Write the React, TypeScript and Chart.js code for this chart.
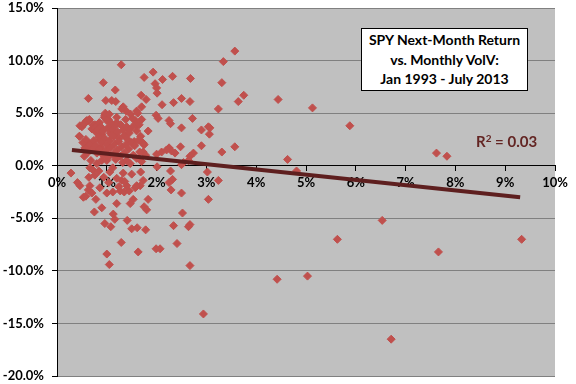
import React, { useEffect, useRef } from "react";
import { Chart, registerables } from "chart.js";

Chart.register(...registerables);

// Monthly VolV (%), x values
const volatility: number[] = [
  1.29, 0.93, 0.63, 1.17, 0.98, 1.10, 1.18, 1.93, 1.97, 2.00, 2.01, 2.12, 2.32, 1.75, 2.68, 1.69, 1.79, 2.11, 2.34, 2.50,
  2.67, 1.33, 1.39, 1.60, 1.99, 2.03, 2.25, 2.28, 2.72, 2.50, 2.90, 3.04, 3.06, 3.24, 3.31, 3.34, 3.57, 3.64, 3.75, 2.90,
  3.31, 3.57, 2.48, 2.74, 2.25, 2.30, 2.37, 2.00, 2.01, 2.10, 2.20, 1.83, 1.73, 2.54, 4.44, 5.13, 5.88, 4.63, 4.81, 3.02,
  3.24, 3.04, 6.53, 5.63, 4.42, 5.03, 2.94, 6.71, 7.62, 7.83, 7.66, 9.33, 2.50, 2.52, 2.67, 2.64, 2.34, 2.41, 2.67, 1.99,
  2.07, 1.63, 1.29, 1.00, 1.05, 0.96, 1.08, 1.16, 1.13, 1.41, 1.50, 1.61, 1.78, 0.75, 0.90, 0.78, 0.53, 0.58, 1.20, 1.47,
  1.53, 1.75, 1.80, 1.83, 2.29, 0.46, 0.66, 0.63, 1.12, 1.27, 1.35, 1.40, 1.57, 1.67, 0.28, 0.45, 0.46, 0.53, 0.58, 0.63,
  0.76, 0.41, 0.64, 0.66, 0.56, 0.65, 0.63, 0.80, 0.90, 1.00, 0.88, 0.86, 1.72, 1.73, 2.67, 2.64, 2.50, 3.07, 2.28, 2.32,
  2.25, 1.73, 1.06, 1.30, 1.70, 0.96, 1.03, 0.83, 1.20, 1.40, 1.57, 1.60,
  0.50, 0.55, 0.60, 0.65, 0.70, 0.72, 0.75, 0.78, 0.80, 0.82, 0.85, 0.88, 0.90, 0.92, 0.95, 0.97, 1.00, 1.02, 1.05, 1.07,
  1.10, 1.12, 1.15, 1.18, 1.20, 1.22, 1.25, 1.28, 1.30, 1.33, 1.35, 1.38, 1.40, 1.42, 1.45, 1.48, 1.50, 1.52, 1.55, 1.58,
  1.60, 1.62, 1.65, 1.68, 1.70,
  0.45, 0.52, 0.58, 0.62, 0.66, 0.70, 0.74, 0.78, 0.80, 0.84, 0.86, 0.90, 0.93, 0.96, 0.98, 1.00, 1.03, 1.06, 1.08, 1.10,
  1.13, 1.16, 1.18, 1.21, 1.24, 1.27, 1.30, 1.32, 1.35, 1.38, 1.40, 1.44, 1.47, 1.50, 1.53, 1.56, 1.60, 1.63, 1.66, 1.70,
  1.75, 1.78,
  0.55, 0.68, 0.72, 0.76, 0.84, 0.94, 1.04, 1.12, 1.20, 1.24, 1.33, 1.36, 1.45, 1.50, 1.60, 1.68, 0.86, 1.00, 0.70,
];

// SPY next-month return (%), y values
const nextReturn: number[] = [
  9.6, 7.9, 6.4, 7.2, 6.2, 6.2, 6.1, 8.9, 7.8, 7.4, 6.9, 8.2, 8.5, 8.4, 8.3, 6.7, 6.3, 5.8, 6.0, 6.4,
  6.1, 5.6, 5.2, 5.2, 4.8, 4.5, 4.3, 4.0, 4.5, 3.6, 3.4, 3.7, 3.0, 5.4, 7.9, 9.9, 10.9, 6.1, 6.7, 1.9,
  1.3, 1.8, 1.8, 1.2, 1.7, 1.4, 1.2, 1.1, -0.1, 1.3, 1.5, 3.3, 2.1, 0.3, 6.3, 5.5, 3.8, 0.6, -0.5, -0.6,
  -1.4, -3.2, -5.2, -7.0, -10.8, -10.5, -14.1, -16.5, 1.2, 0.9, -8.2, -7.0, -2.6, -4.5, -5.6, -5.8, -5.7, -7.4, -9.5, -7.9,
  -7.9, -8.2, -7.3, -8.4, -9.4, -5.5, -5.8, -5.1, -4.6, -5.2, -6.0, -5.9, -6.1, -4.4, -4.0, -3.2, -3.0, -2.9, -3.6, -3.6,
  -3.2, -3.9, -4.2, -3.2, -2.3, -1.9, -1.9, -2.3, -2.5, -2.4, -2.5, -1.9, -2.1, -1.9, -0.7, 2.8, 3.8, 3.9, 4.2, 4.3,
  3.9, -1.6, -1.1, -0.2, 1.7, 2.1, 1.3, 0.2, 0.5, 0.5, 1.7, 2.4, 2.2, 1.3, 0.9, 0.5, 0.1, 3.6, -0.5, -1.3,
  -1.6, -1.4, -0.6, -1.4, 5.6, 4.8, 4.4, 3.6, 4.1, 3.6, 4.3, 3.8,
  3.7, 4.0, 4.3, 4.4, 3.5, 3.9, 3.6, 3.2, 3.8, 3.4, 4.1, 3.7, 3.0, 3.3, 4.6, 5.0, 4.3, 3.6, 4.9, 3.1,
  4.0, 3.4, 2.8, 3.8, 4.6, 3.2, 2.6, 3.9, 5.4, 3.4, 2.9, 4.4, 3.7, 2.5, 3.1, 4.9, 3.6, 4.5, 2.3, 4.0,
  3.3, 5.0, 3.9, 2.8, 4.4,
  2.8, 2.2, 2.5, 1.8, 2.0, 1.5, 2.4, 1.9, 1.2, 2.7, 1.6, 2.2, 1.0, 2.6, 1.4, 2.0, 0.8, 2.4, 1.7, 2.9,
  1.1, 2.1, 0.6, 1.5, 2.3, 0.9, 1.8, 0.3, 1.2, 2.0, 0.5, 1.6, 0.2, 2.2, 1.0, 1.9, 0.7, 2.4, 1.3, 0.4,
  2.0, 1.0,
  0.9, 0.5, -0.4, -0.9, -0.5, -1.1, -1.6, -0.2, -1.2, -2.0, -0.7, -1.5, -2.4, -0.8, -1.9, -0.6, -2.1, -2.6, -2.6,
];

// Linear trend line end points
const trendX: number[] = [0.3, 9.3];
const trendY: number[] = [1.5, -3.0];

const titleLines: string[] = ["SPY Next-Month Return", "vs. Monthly VolV:", "Jan 1993 - July 2013"];
const rSquaredLabel = "0.03";

const FONT = "Lato, 'Open Sans', sans-serif";

export default function App() {
  const canvasRef = useRef<HTMLCanvasElement | null>(null);

  useEffect(() => {
    document.body.style.margin = "0";
    const canvas = canvasRef.current;
    if (!canvas) return;

    const points = volatility.map((x, i) => ({ x, y: nextReturn[i] }));
    const trend = trendX.map((x, i) => ({ x, y: trendY[i] }));

    const bgPlugin = {
      id: "plotBg",
      beforeDraw(chart: any) {
        const { ctx, chartArea: a } = chart;
        ctx.save();
        ctx.fillStyle = "#C0C0C0";
        ctx.fillRect(a.left, a.top, a.right - a.left, a.bottom - a.top);
        ctx.restore();
      },
    };

    const chart = new Chart(canvas, {
      type: "scatter",
      data: {
        datasets: [
          {
            type: "line",
            data: trend,
            borderColor: "#5E1F1F",
            borderWidth: 4,
            pointRadius: 0,
            fill: false,
            order: 0,
          } as any,
          {
            data: points,
            pointStyle: "rectRot",
            pointRadius: 4,
            pointBackgroundColor: "#C0504D",
            pointBorderColor: "#C0504D",
            pointBorderWidth: 1,
            order: 1,
          },
        ],
      },
      plugins: [bgPlugin],
      options: {
        animation: false,
        responsive: false,
        devicePixelRatio: 1,
        layout: { padding: { left: 0, top: 8, right: 21, bottom: 8 } },
        plugins: {
          legend: { display: false },
          tooltip: { enabled: false },
          title: { display: false },
        },
        scales: {
          x: {
            type: "linear",
            position: { y: 0 } as any,
            min: 0,
            max: 10,
            z: 1,
            afterFit: (scale: any) => {
              scale.height = 0;
              scale.paddingTop = 0;
              scale.paddingBottom = 0;
            },
            ticks: {
              stepSize: 1,
              color: "#000",
              padding: 4,
              maxRotation: 0,
              font: { family: FONT, weight: "bold", size: 13 },
              callback: (v: any) => `${v}%`,
            },
            grid: {
              drawOnChartArea: false,
              drawTicks: true,
              tickLength: 5,
              tickColor: "#000",
              color: "#000",
            },
            border: { display: true, color: "#000", width: 1 },
          },
          y: {
            type: "linear",
            position: "left",
            min: -20,
            max: 15,
            afterFit: (scale: any) => {
              scale.width = 57;
              scale.paddingTop = 0;
              scale.paddingBottom = 0;
            },
            ticks: {
              stepSize: 5,
              color: "#000",
              padding: 8,
              font: { family: FONT, weight: "bold", size: 13 },
              callback: (v: any) => `${Number(v).toFixed(1)}%`,
            },
            grid: {
              color: "#808080",
              tickColor: "#000",
              tickLength: 5,
              lineWidth: 1,
            },
            border: { display: true, color: "#000", width: 1 },
          },
        },
      },
    });

    return () => chart.destroy();
  }, []);

  return (
    <div style={{ position: "fixed", left: 0, top: 0, width: 576, height: 384, background: "#fff" }}>
      <canvas ref={canvasRef} width={576} height={384} style={{ display: "block" }} />
      <div
        style={{
          position: "absolute",
          left: 361,
          top: 28,
          width: 167,
          height: 63,
          boxSizing: "border-box",
          border: "1px solid #000",
          background: "#fff",
          textAlign: "center",
          fontFamily: FONT,
          fontWeight: "bold",
          fontSize: 14,
          lineHeight: "19.5px",
          paddingTop: 1,
          color: "#000",
          whiteSpace: "nowrap",
        }}
      >
        {titleLines.map((t) => (
          <div key={t}>{t}</div>
        ))}
      </div>
      <div
        style={{
          position: "absolute",
          left: 476,
          top: 132,
          fontFamily: FONT,
          fontWeight: "bold",
          fontSize: 15,
          lineHeight: "19px",
          color: "#632523",
          whiteSpace: "nowrap",
        }}
      >
        R<span style={{ fontSize: 10, position: "relative", top: -5 }}>2</span> = {rSquaredLabel}
      </div>
    </div>
  );
}
